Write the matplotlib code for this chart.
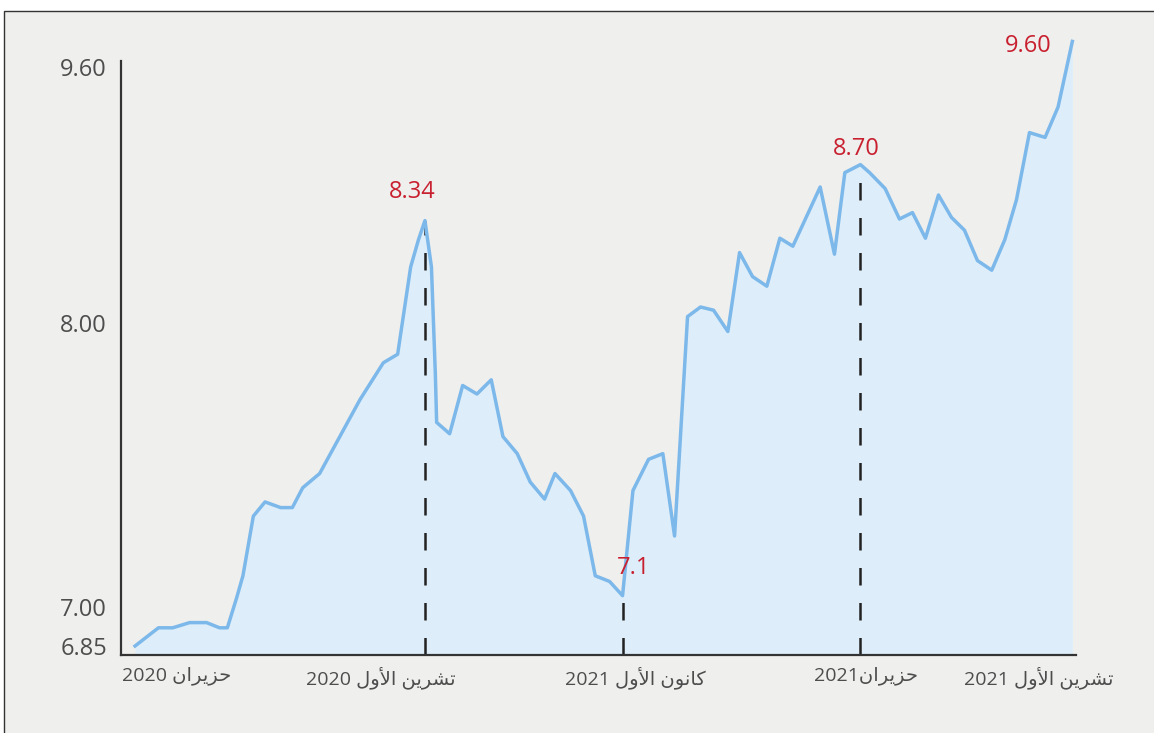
import re
import numpy as np
import matplotlib
matplotlib.use("Agg")
import matplotlib.pyplot as plt
from matplotlib.patches import Rectangle

# --- data ---
weeks = [0, 1.8, 2.9, 4.2, 5.5, 6.5, 7.1, 7.8, 8.3, 9.1, 10.0, 11.2, 12.1, 12.9,
         14.2, 17.3, 19.1, 20.2, 21.2, 21.8, 22.3, 22.8, 23.1, 23.2, 24.2, 25.2,
         26.3, 27.4, 28.3, 29.4, 30.4, 31.5, 32.3, 33.5, 34.5, 35.4, 36.5, 37.5,
         38.3, 39.5, 40.6, 41.5, 42.5, 43.5, 44.5, 45.6, 46.5, 47.5, 48.6, 49.6,
         50.6, 52.7, 53.8, 54.6, 55.8, 56.5, 57.7, 58.8, 59.8, 60.8, 61.8, 62.8,
         63.8, 64.8, 65.9, 66.9, 67.8, 68.8, 70.0, 71.0, 72.1]
rate = [6.85, 6.92, 6.92, 6.94, 6.94, 6.92, 6.92, 7.03, 7.11, 7.32, 7.37, 7.35,
        7.35, 7.42, 7.47, 7.73, 7.86, 7.89, 8.35, 8.52, 8.64, 8.35, 7.82, 7.65,
        7.61, 7.78, 7.75, 7.80, 7.60, 7.54, 7.44, 7.38, 7.47, 7.41, 7.32, 7.11,
        7.09, 7.04, 7.41, 7.52, 7.54, 7.25, 8.04, 8.10, 8.08, 7.97, 8.44, 8.29,
        8.23, 8.53, 8.48, 8.85, 8.43, 8.94, 8.99, 8.94, 8.84, 8.65, 8.69, 8.53,
        8.80, 8.66, 8.58, 8.39, 8.33, 8.52, 8.77, 9.19, 9.16, 9.35, 9.76]

y_ticks = [6.85, 7.00, 8.00, 9.60]
x_label_pos = [3.2, 18.9, 38.5, 56.2, 69.5]
x_labels = ["حزيران 2020", "تشرين الأول 2020", "كانون الأول 2021",
            "حزيران2021", "تشرين الأول 2021"]

# marked points: (index in series, label)
marks = [(20, "8.34"), (37, "7.1"), (54, "8.70"), (70, "9.60")]
drop_lines = [20, 37, 54]

# uneven value axis of the original (tick value -> drawn height)
scale_vals = [6.5, 6.85, 7.00, 8.00, 9.60, 10.6]
scale_pos = [-95.7, 0, 39, 323, 579, 739]


def fwd(v):
    return np.interp(v, scale_vals, scale_pos)


def inv(p):
    return np.interp(p, scale_pos, scale_vals)


# minimal Arabic shaping (presentation forms) since matplotlib does not shape
FORMS = {
    'ا': ('\uFE8D', '\uFE8E', None, None),
    'أ': ('\uFE83', '\uFE84', None, None),
    'ح': ('\uFEA1', '\uFEA2', '\uFEA3', '\uFEA4'),
    'ز': ('\uFEAF', '\uFEB0', None, None),
    'ر': ('\uFEAD', '\uFEAE', None, None),
    'ي': ('\uFEF1', '\uFEF2', '\uFEF3', '\uFEF4'),
    'ن': ('\uFEE5', '\uFEE6', '\uFEE7', '\uFEE8'),
    'ت': ('\uFE95', '\uFE96', '\uFE97', '\uFE98'),
    'ش': ('\uFEB5', '\uFEB6', '\uFEB7', '\uFEB8'),
    'ل': ('\uFEDD', '\uFEDE', '\uFEDF', '\uFEE0'),
    'و': ('\uFEED', '\uFEEE', None, None),
    'ك': ('\uFED9', '\uFEDA', '\uFEDB', '\uFEDC'),
    'لأ': ('\uFEF7', '\uFEF8', None, None),
    'لا': ('\uFEFB', '\uFEFC', None, None),
}


def shape_word(w):
    units = []
    i = 0
    while i < len(w):
        if w[i] == 'ل' and i + 1 < len(w) and w[i + 1] in 'اأ':
            units.append(w[i:i + 2])
            i += 2
        else:
            units.append(w[i])
            i += 1
    out = []
    for k, u in enumerate(units):
        f = FORMS[u]
        prev_ok = k > 0 and FORMS[units[k - 1]][2] is not None
        next_ok = k < len(units) - 1 and f[2] is not None
        if prev_ok and next_ok:
            out.append(f[3])
        elif prev_ok:
            out.append(f[1])
        elif next_ok:
            out.append(f[2])
        else:
            out.append(f[0])
    return ''.join(out)


def ar(text):
    # right-to-left: split into runs, shape arabic words, reverse run order
    runs = re.findall(r'[\u0600-\u06FF]+|\s+|[^\u0600-\u06FF\s]+', text)
    vis = []
    for r in runs:
        if re.match(r'[\u0600-\u06FF]', r):
            vis.append(shape_word(r)[::-1])
        else:
            vis.append(r)
    return ''.join(vis[::-1])


BG = '#efefee'
LINE = '#7db8ea'
FILL = '#ddeefa'
RED = '#c8202f'
TXT = '#4d4d4d'
FONT = ['Open Sans', 'DejaVu Sans']

fig = plt.figure(figsize=(11.54, 7.33), dpi=100)
fig.patch.set_facecolor('white')
fig.patches.append(Rectangle((4 / 1154, -0.05), 1.2, (733 - 11) / 733 + 0.05,
                             transform=fig.transFigure, facecolor=BG,
                             edgecolor='#333333', linewidth=1.0, zorder=-10))

ax = fig.add_axes([121 / 1154, 1 - 655 / 733, (1076 - 121) / 1154, (655 - 30) / 733])
ax.set_facecolor('none')
ax.set_yscale('function', functions=(fwd, inv))

y_bottom = inv(-9)
y_top = inv(616)
ax.set_ylim(y_bottom, y_top)
ax.set_xlim(-1.08, 72.38)

ax.fill_between(weeks, rate, y_bottom, color=FILL, linewidth=0, zorder=1)

for i in drop_lines:
    ax.plot([weeks[i], weeks[i]], [y_bottom, rate[i]], color='#222222',
            linewidth=1.8, linestyle=(0, (7, 7)), zorder=2)

ax.plot(weeks, rate, color=LINE, linewidth=2.5, zorder=3, clip_on=False,
        solid_joinstyle='round')

offsets = {"8.34": (-13, 29), "7.1": (11, 28), "8.70": (-4, 16), "9.60": (-44, -5)}
for i, lab in marks:
    ax.annotate(lab, xy=(weeks[i], rate[i]), xytext=offsets[lab],
                textcoords='offset pixels', ha='center', va='center',
                color=RED, fontsize=17, family=FONT, zorder=4)

ax.set_yticks(y_ticks)
ax.set_yticklabels([f"{v:.2f}" for v in y_ticks])
ax.minorticks_off()
ax.set_xticks(x_label_pos)
ax.set_xticklabels([ar(t) for t in x_labels])
ax.tick_params(axis='y', length=0, pad=10, labelsize=17, labelcolor=TXT)
ax.tick_params(axis='x', length=0, pad=8, labelsize=14, labelcolor=TXT)
for lab in ax.get_xticklabels() + ax.get_yticklabels():
    lab.set_family(FONT)

for side in ['top', 'right']:
    ax.spines[side].set_visible(False)
for side in ['left', 'bottom']:
    ax.spines[side].set_color('#333333')
    ax.spines[side].set_linewidth(1.6)
ax.spines['left'].set_bounds(y_bottom, inv(585))

fig.savefig('out.png', dpi=100, facecolor=fig.get_facecolor())
